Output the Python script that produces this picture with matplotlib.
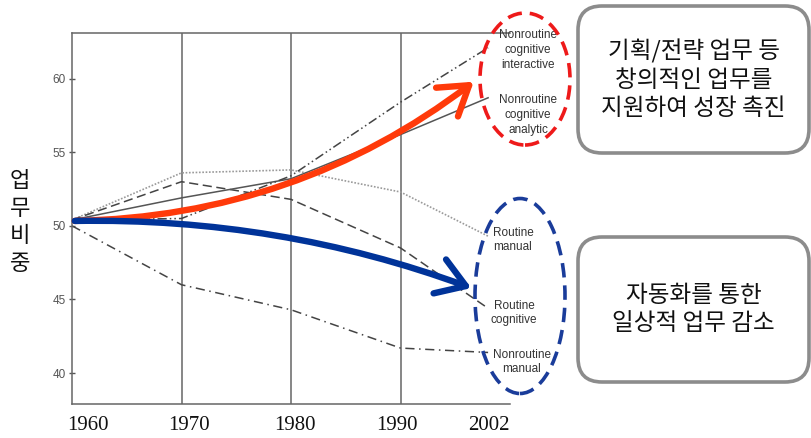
import matplotlib
matplotlib.use("Agg")
import matplotlib.pyplot as plt
import matplotlib.transforms as mtransforms
from matplotlib.patches import Ellipse, FancyBboxPatch, FancyArrowPatch

# ---------------- data ----------------
years = [1960, 1970, 1980, 1990, 1998]
year_labels = ["1960", "1970", "1980", "1990", "2002"]
nr_interactive = [50.4, 50.5, 53.4, 58.4, 62.1]
nr_analytic = [50.4, 51.9, 53.2, 56.2, 58.7]
routine_manual = [50.4, 53.6, 53.8, 52.3, 49.3]
routine_cognitive = [50.4, 53.0, 51.8, 48.5, 44.4]
nr_manual = [50.0, 46.0, 44.3, 41.7, 41.4]
y_ticks = [40, 45, 50, 55, 60]
series_labels = ["Nonroutine\ncognitive\ninteractive", "Nonroutine\ncognitive\nanalytic",
                 "Routine\nmanual", "Routine\ncognitive", "Nonroutine\nmanual"]
box_texts = ["기획/전략 업무 등\n창의적인 업무를\n지원하여 성장 촉진",
             "자동화를 통한\n일상적 업무 감소"]
ylabel_text = "업\n무\n비\n중"

W, H = 811, 438
fig = plt.figure(figsize=(W / 100, H / 100), dpi=100)
fig.patch.set_facecolor("white")


def fx(x):
    return x / W


def fy(y):
    return 1 - y / H


ax = fig.add_axes([fx(72), fy(404), fx(510) - fx(72), fy(33) - fy(404)])
ax.set_xlim(1960, 2000)
ax.set_ylim(37.9, 63.1)

# series
ax.plot(years, routine_manual, color="#9a9a9a", lw=1.2, ls=(0, (1, 1)))
ax.plot(years, routine_cognitive, color="#444444", lw=1.1, ls=(0, (6, 3)))
ax.plot(years, nr_analytic, color="#555555", lw=1.1, ls="-")
ax.plot(years, nr_interactive, color="#444444", lw=1.1, ls=(0, (6, 2, 1, 2, 1, 2)))
ax.plot(years, nr_manual, color="#444444", lw=1.1, ls=(0, (6, 3, 1, 3)))

# vertical grid lines at decades
for yr in years[1:4]:
    ax.axvline(yr, color="#666666", lw=1.1, zorder=0)

ax.spines["right"].set_visible(False)
for s in ["left", "top", "bottom"]:
    ax.spines[s].set_color("#666666")
    ax.spines[s].set_linewidth(1.1)

ax.set_yticks(y_ticks)
ax.set_yticklabels([str(v) for v in y_ticks], fontsize=8.5, color="#555555",
                   family="Liberation Sans")
ax.tick_params(axis="y", direction="inout", length=5, width=1, color="#555555", pad=2)

ax.set_xticks(years)
ax.set_xticklabels(year_labels, fontsize=15, family="Liberation Serif", color="#111111")
ax.tick_params(axis="x", length=0, pad=9)
offsets = [16, 7, 4, -4, 1]
for lab, dx in zip(ax.get_xticklabels(), offsets):
    lab.set_transform(lab.get_transform() +
                      mtransforms.ScaledTranslation(dx / 100, 0, fig.dpi_scale_trans))

# series labels
label_pos = [(528, 50), (528, 115), (513, 240), (514, 313), (522, 362)]
for txt, (x, y) in zip(series_labels, label_pos):
    fig.text(fx(x), fy(y), txt, ha="center", va="center", fontsize=8.5,
             family="Liberation Sans", color="#333333", linespacing=1.3)

# arrows (annotation)
astyle = "->,head_length=1.0,head_width=0.65"
red_arrow = FancyArrowPatch(posA=(fx(72), fy(221)), posB=(fx(476), fy(80)),
                            transform=fig.transFigure, connectionstyle="arc3,rad=0.165",
                            arrowstyle=astyle, mutation_scale=20, lw=4.6, color="#FF3A0A",
                            capstyle="round", joinstyle="round", zorder=5)
blue_arrow = FancyArrowPatch(posA=(fx(72), fy(221)), posB=(fx(474), fy(289)),
                             transform=fig.transFigure, connectionstyle="arc3,rad=-0.095",
                             arrowstyle=astyle, mutation_scale=20, lw=4.6, color="#003399",
                             capstyle="round", joinstyle="round", zorder=5)
fig.add_artist(red_arrow)
fig.add_artist(blue_arrow)

# dashed ellipses
e1 = Ellipse((fx(525), fy(79)), fx(90), 132 / H, transform=fig.transFigure,
             fill=False, ec="#EE1A1A", lw=2.6, ls=(0, (4, 2.2)), zorder=6)
e2 = Ellipse((fx(520), fy(296)), fx(90), 195 / H, transform=fig.transFigure,
             fill=False, ec="#1A3C9A", lw=2.6, ls=(0, (4, 2.2)), zorder=6)
fig.add_artist(e1)
fig.add_artist(e2)

# rounded boxes
boxes = [(578, 6, 809, 153), (578, 237, 809, 382)]
for (x0, y0, x1, y1), txt in zip(boxes, box_texts):
    b = FancyBboxPatch((x0, H - y1), x1 - x0, y1 - y0,
                       boxstyle="round,pad=0,rounding_size=24",
                       transform=None, fc="white", ec="#8c8c8c", lw=2.6, zorder=7)
    fig.add_artist(b)
    fig.text(fx((x0 + x1) / 2), fy((y0 + y1) / 2), txt, ha="center", va="center",
             fontsize=17, family=["Noto Sans CJK KR", "DejaVu Sans"], color="#111111",
             linespacing=1.28, zorder=8)

# y label (stacked characters)
fig.text(fx(20), fy(222), ylabel_text, ha="center", va="center", fontsize=16,
         family=["Noto Sans CJK KR", "DejaVu Sans"], color="#111111", linespacing=1.25)

fig.savefig("out.png", dpi=100, facecolor="white")
